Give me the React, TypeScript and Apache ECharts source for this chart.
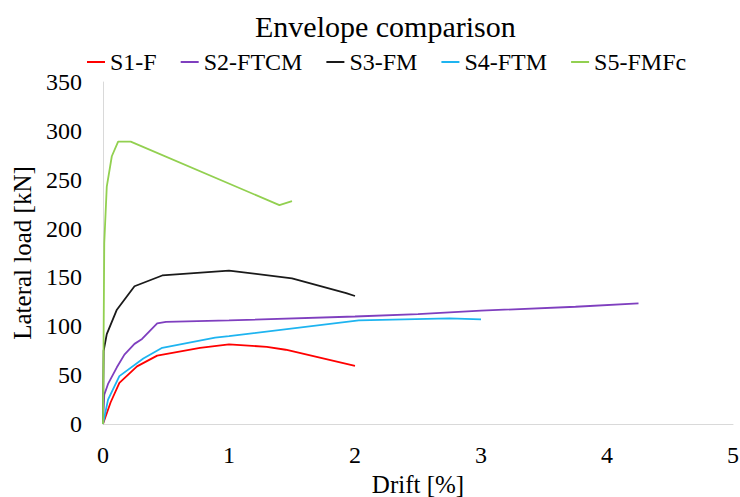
import React, { useEffect, useRef } from "react";
import * as echarts from "echarts";

const seriesNames = ["S1-F", "S2-FTCM", "S3-FM", "S4-FTM", "S5-FMFc"];
const seriesColors = ["#FF0000", "#7F3FBF", "#1A1A1A", "#1EB4F0", "#92D050"];

const s1F: number[][] = [[0, 0], [0.06, 22], [0.13, 42], [0.27, 59], [0.43, 70], [0.77, 78], [1.0, 81.5], [1.3, 79], [1.45, 76], [2.0, 59.5]];
const s2FTCM: number[][] = [[0, 0], [0.01, 30], [0.04, 41], [0.11, 58], [0.17, 71], [0.25, 82], [0.31, 87], [0.43, 103], [0.5, 104.5], [1.0, 106], [2.0, 110], [2.5, 112.5], [3.0, 116], [3.75, 120], [4.25, 123.5]];
const s3FM: number[][] = [[0, 0], [0.005, 75], [0.03, 92], [0.11, 117], [0.25, 141], [0.47, 152], [1.0, 157], [1.5, 149], [1.93, 134], [2.0, 131]];
const s4FTM: number[][] = [[0, 0], [0.04, 25], [0.13, 49], [0.32, 67], [0.47, 78], [0.89, 88.5], [1.0, 90], [2.03, 106], [2.75, 108], [3.0, 107]];
const s5FMFc: number[][] = [[0, 0], [0.01, 185], [0.03, 243], [0.07, 274], [0.12, 289], [0.22, 289], [1.4, 224], [1.5, 228]];

const allData = [s1F, s2FTCM, s3FM, s4FTM, s5FMFc];

const FONT = "Liberation Serif";

export default function App() {
  const ref = useRef<HTMLDivElement>(null);
  useEffect(() => {
    if (!ref.current) return;
    const chart = echarts.init(ref.current, null, { renderer: "svg" });
    chart.setOption({
      animation: false,
      backgroundColor: "#ffffff",
      title: {
        text: "Envelope comparison",
        left: 250,
        top: 6,
        textStyle: { fontFamily: FONT, fontSize: 30, fontWeight: "normal", color: "#000" },
      },
      legend: {
        top: 45,
        left: 82,
        data: seriesNames,
        icon: "rect",
        itemWidth: 18,
        itemHeight: 2,
        itemGap: 24,
        textStyle: { fontFamily: FONT, fontSize: 24, color: "#000" },
      },
      grid: { left: 103, right: 7, top: 82, bottom: 73, containLabel: false, outerBoundsMode: "none" },
      xAxis: {
        type: "value",
        min: 0,
        max: 5,
        interval: 1,
        name: "Drift [%]",
        nameLocation: "middle",
        nameGap: 47,
        nameTextStyle: { fontFamily: FONT, fontSize: 25, color: "#000" },
        axisLine: { show: true, lineStyle: { color: "#D9D9D9", width: 1 } },
        axisTick: { show: false },
        splitLine: { show: false },
        axisLabel: { fontFamily: FONT, fontSize: 24, color: "#000", margin: 19 },
      },
      yAxis: {
        type: "value",
        min: 0,
        max: 350,
        interval: 50,
        name: "Lateral load [kN]",
        nameLocation: "middle",
        nameGap: 68,
        nameRotate: 90,
        nameTextStyle: { fontFamily: FONT, fontSize: 25, color: "#000" },
        axisLine: { show: true, lineStyle: { color: "#D9D9D9", width: 1 } },
        axisTick: { show: false },
        splitLine: { show: false },
        axisLabel: { fontFamily: FONT, fontSize: 24, color: "#000", margin: 21 },
      },
      series: seriesNames.map((name, i) => ({
        name,
        type: "line",
        data: allData[i],
        showSymbol: false,
        symbol: "none",
        smooth: false,
        color: seriesColors[i],
        lineStyle: { width: 1.8, color: seriesColors[i] },
      })),
    });
    return () => chart.dispose();
  }, []);
  return <div ref={ref} style={{ width: 740, height: 497, position: "absolute", left: 0, top: 0 }} />;
}
